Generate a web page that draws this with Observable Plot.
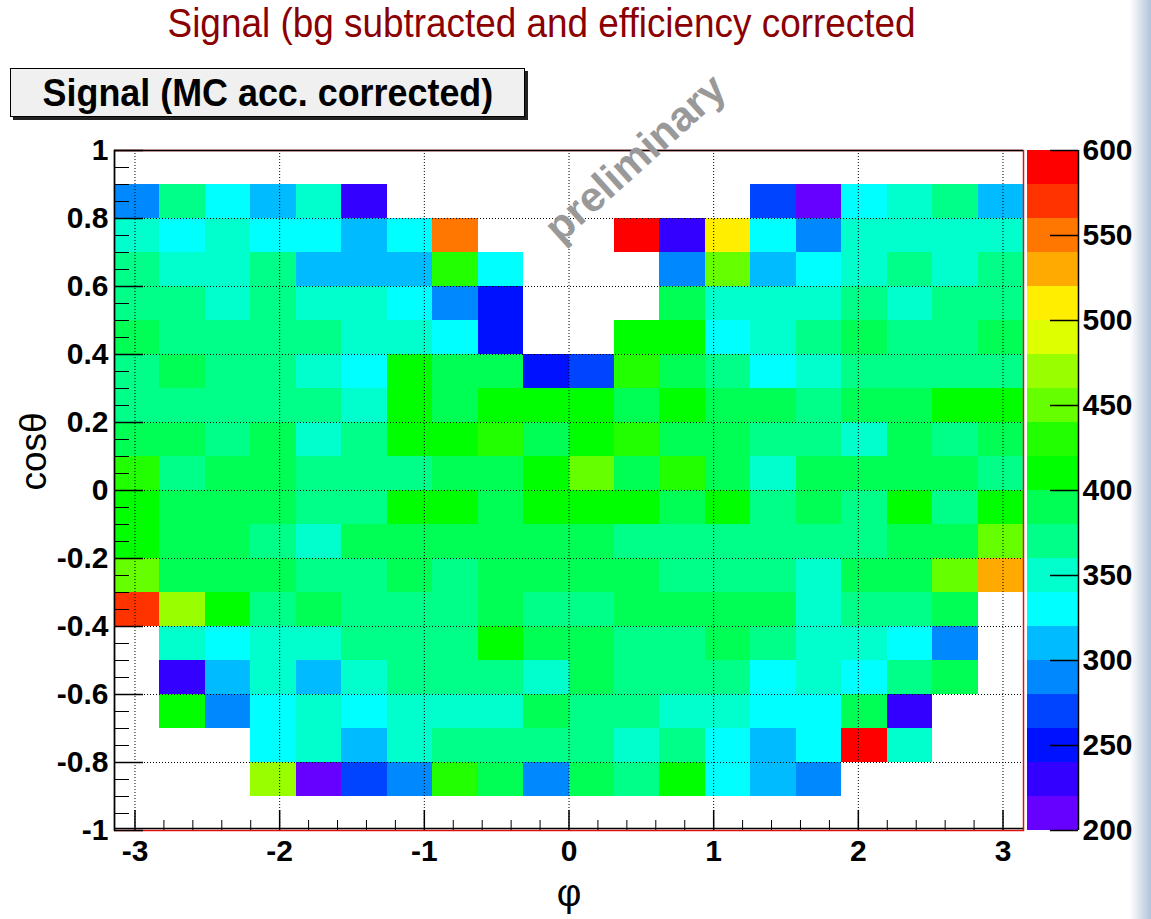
<!DOCTYPE html>
<html>
<head>
<meta charset="utf-8">
<script src="https://cdn.jsdelivr.net/npm/d3@7"></script>
<script src="https://cdn.jsdelivr.net/npm/@observablehq/plot@0.6"></script>
<style>
  body { margin: 0; background: #fff; font-family: "Liberation Sans", Arial, sans-serif; }
  #page { position: relative; width: 1151px; height: 919px; overflow: hidden; background: #fff; }
  #title { position: absolute; left: 0; top: 0px; width: 1084px; text-align: center; font-size: 41px; color: #8b0000; white-space: nowrap; }
  #title span { display: inline-block; transform: scaleX(0.9); }
  #box { position: absolute; left: 10px; top: 68px; width: 513px; height: 47px; background: #f0f0f0; border: 1px solid #000;
         box-shadow: 3px 3px 0 #222; font-weight: bold; font-size: 39px; text-align: center; line-height: 47px; white-space: nowrap; }
  #box span { display: inline-block; transform: scaleX(0.92); }
  #wm { position: absolute; left: 635px; top: 158px; transform: translate(-50%, -50%) rotate(-42deg); font-weight: bold;
        font-size: 42px; color: #999; white-space: nowrap; z-index: 5; }
  #edge { position: absolute; left: 1130px; top: 0; width: 21px; height: 919px;
          background: linear-gradient(to right, rgba(210,220,235,0), rgba(170,188,212,0.9)); }
  #main { position: absolute; left: 0; top: 0; }
  #bar { position: absolute; left: 1027px; top: 0; }
</style>
</head>
<body>
<div id="page">
  <div id="edge"></div>
  <div id="main"></div>
  <div id="bar"></div>
  <div id="title"><span>Signal (bg subtracted and efficiency corrected</span></div>
  <div id="box"><span>Signal (MC acc. corrected)</span></div>
  <div id="wm">preliminary</div>
</div>
<script>
// ---- data: signal per (cosθ bin, φ bin); rows from cosθ 0.9–1.0 (top) down to -1.0–-0.9 ----
const signalRows = [
  [null,null,null,null,null,null,null,null,null,null,null,null,null,null,null,null,null,null,null,null],
  [290,370,330,310,350,230,null,null,null,null,null,null,null,null,270,210,330,350,370,310],
  [350,330,350,330,330,310,330,550,null,null,null,590,230,510,330,290,350,350,350,350],
  [370,350,350,370,310,310,310,430,330,null,null,null,290,450,310,330,350,370,350,370],
  [370,370,350,370,350,350,330,290,250,null,null,null,390,350,350,350,370,350,370,370],
  [390,370,370,370,370,350,350,330,250,null,null,410,410,330,350,370,390,370,370,390],
  [370,390,370,370,350,330,410,390,390,250,270,430,390,370,330,350,370,370,370,370],
  [370,370,370,370,370,350,410,390,410,410,410,390,410,390,390,370,390,390,410,410],
  [390,390,370,390,350,370,410,410,430,390,410,430,390,390,370,370,350,390,370,390],
  [430,370,390,390,370,370,370,390,390,410,450,390,430,390,350,390,390,390,390,370],
  [410,390,390,390,370,370,410,410,390,410,410,410,390,410,370,390,370,410,370,410],
  [410,390,390,370,350,390,390,390,390,390,390,370,370,370,370,370,370,390,390,450],
  [450,390,390,390,370,370,390,370,390,390,390,390,370,370,370,350,390,390,450,530],
  [570,470,410,370,390,370,370,370,390,370,370,390,390,390,390,350,370,370,390,null],
  [null,350,330,350,350,370,370,370,410,390,390,370,370,390,370,350,350,330,290,null],
  [null,230,310,350,310,350,370,370,370,350,390,370,370,370,330,350,330,370,390,null],
  [null,410,290,330,350,330,350,350,350,390,370,370,350,350,330,330,390,230,null,null],
  [null,null,null,330,350,310,350,370,370,370,370,350,370,330,310,330,590,350,null,null],
  [null,null,null,470,210,270,290,430,390,290,390,370,410,330,310,290,null,null,null,null],
  [null,null,null,null,null,null,null,null,null,null,null,null,null,null,null,null,null,null,null,null]
];
const phiRange = [-Math.PI, Math.PI];
const cosRange = [-1, 1];
const xTickValues = [-3, -2, -1, 0, 1, 2, 3];
const yTickValues = [-1, -0.8, -0.6, -0.4, -0.2, 0, 0.2, 0.4, 0.6, 0.8, 1];
const paletteEdges = [200,220,240,260,280,300,320,340,360,380,400,420,440,460,480,500,520,540,560,580,600];
const paletteColors = ["#6600ff","#3300ff","#0011ff","#0044ff","#0088ff","#00bbff","#00ffff","#00ffcc","#00ff88","#00ff55",
                       "#00ff00","#22ff00","#66ff00","#99ff00","#ddff00","#ffee00","#ffaa00","#ff7700","#ff3300","#ff0000"];
const barTickValues = [200, 250, 300, 350, 400, 450, 500, 550, 600];

// ---- derived tables ----
const nPhi = signalRows[0].length, nCos = signalRows.length;
const phiStep = (phiRange[1] - phiRange[0]) / nPhi;
const cosStep = (cosRange[1] - cosRange[0]) / nCos;
const cells = [];
signalRows.forEach((row, k) => row.forEach((v, i) => {
  if (v == null) return;
  cells.push({
    phi1: phiRange[0] + i * phiStep, phi2: phiRange[0] + (i + 1) * phiStep,
    cos2: cosRange[1] - k * cosStep, cos1: cosRange[1] - (k + 1) * cosStep,
    signal: v
  });
}));
const paletteBins = paletteColors.map((c, j) => ({lo: paletteEdges[j], hi: paletteEdges[j + 1], mid: (paletteEdges[j] + paletteEdges[j + 1]) / 2}));
const colorScale = {type: "threshold", domain: paletteEdges.slice(1, -1), range: paletteColors};

const W = 1030, H = 919, ML = 114, MR = 7, MT = 150, MB = 89;
const pxX = (phiRange[1] - phiRange[0]) / (W - ML - MR);   // data units per pixel
const pxY = (cosRange[1] - cosRange[0]) / (H - MT - MB);
const xMinor = d3.range(-15, 16).map(i => i / 5).filter(v => !Number.isInteger(v));
const yMinor = d3.range(-20, 21).map(i => i * 0.05);
const gridX = xTickValues;
const gridY = yTickValues.filter(v => Math.abs(v) < 1);
const fmt = d => String(d);
const font = "Liberation Sans, Arial, Helvetica, sans-serif";

const main = Plot.plot({
  width: W, height: H,
  marginLeft: ML, marginRight: MR, marginTop: MT, marginBottom: MB,
  x: {domain: phiRange, axis: null},
  y: {domain: cosRange, axis: null},
  color: colorScale,
  style: {fontFamily: font, background: "transparent", color: "black", overflow: "visible"},
  marks: [
    Plot.rect(cells, {x1: "phi1", x2: "phi2", y1: "cos1", y2: "cos2", fill: "signal", shapeRendering: "crispEdges"}),
    Plot.ruleX(gridX, {stroke: "black", strokeDasharray: "1,2", strokeWidth: 1}),
    Plot.ruleY(gridY, {stroke: "black", strokeDasharray: "1,2", strokeWidth: 1}),
    Plot.frame({stroke: "#e01010", strokeWidth: 1.5}),
    Plot.ruleY([cosRange[0]], {stroke: "black", strokeWidth: 1.5, dy: -2}),
    Plot.ruleY([cosRange[1]], {stroke: "black", strokeWidth: 1.5}),
    Plot.ruleX([phiRange[0]], {stroke: "black", strokeWidth: 1.5}),
    Plot.ruleX(xMinor, {y1: cosRange[0], y2: cosRange[0] + 10 * pxY, stroke: "black"}),
    Plot.ruleX(xTickValues, {y1: cosRange[0], y2: cosRange[0] + 20 * pxY, stroke: "black", strokeWidth: 1.5}),
    Plot.ruleY(yMinor, {x1: phiRange[0], x2: phiRange[0] + 15 * pxX, stroke: "black"}),
    Plot.ruleY(yTickValues, {x1: phiRange[0], x2: phiRange[0] + 29 * pxX, stroke: "black", strokeWidth: 1.5}),
    Plot.axisX({ticks: xTickValues, tickSize: 0, tickPadding: 9, fontSize: 30, fontWeight: "bold", tickFormat: fmt, label: null}),
    Plot.axisY({ticks: yTickValues, tickSize: 0, tickPadding: 6, fontSize: 30, fontWeight: "bold", tickFormat: fmt, label: null}),
    Plot.text(["φ"], {frameAnchor: "bottom", dy: 75, fontSize: 38}),
    Plot.text(["cosθ"], {frameAnchor: "left", dx: -80, rotate: -90, fontSize: 37})
  ]
});
document.getElementById("main").appendChild(main);

const bar = Plot.plot({
  width: 124, height: H,
  marginLeft: 0, marginRight: 73, marginTop: MT, marginBottom: MB,
  x: {domain: [0, 1], axis: null},
  y: {domain: [paletteEdges[0], paletteEdges[paletteEdges.length - 1]], axis: null},
  color: colorScale,
  style: {fontFamily: font, background: "transparent", color: "black", overflow: "visible"},
  marks: [
    Plot.rect(paletteBins, {x1: 0, x2: 1, y1: "lo", y2: "hi", fill: "mid", shapeRendering: "crispEdges"}),
    Plot.ruleX([1], {stroke: "black", strokeWidth: 1.5}),
    Plot.ruleY(barTickValues, {x1: 0.45, x2: 1, stroke: "black", strokeWidth: 1.5}),
    Plot.axisY({anchor: "right", ticks: barTickValues, tickSize: 0, tickPadding: 4, fontSize: 30, fontWeight: "bold", tickFormat: fmt, label: null})
  ]
});
document.getElementById("bar").appendChild(bar);
</script>
</body>
</html>
